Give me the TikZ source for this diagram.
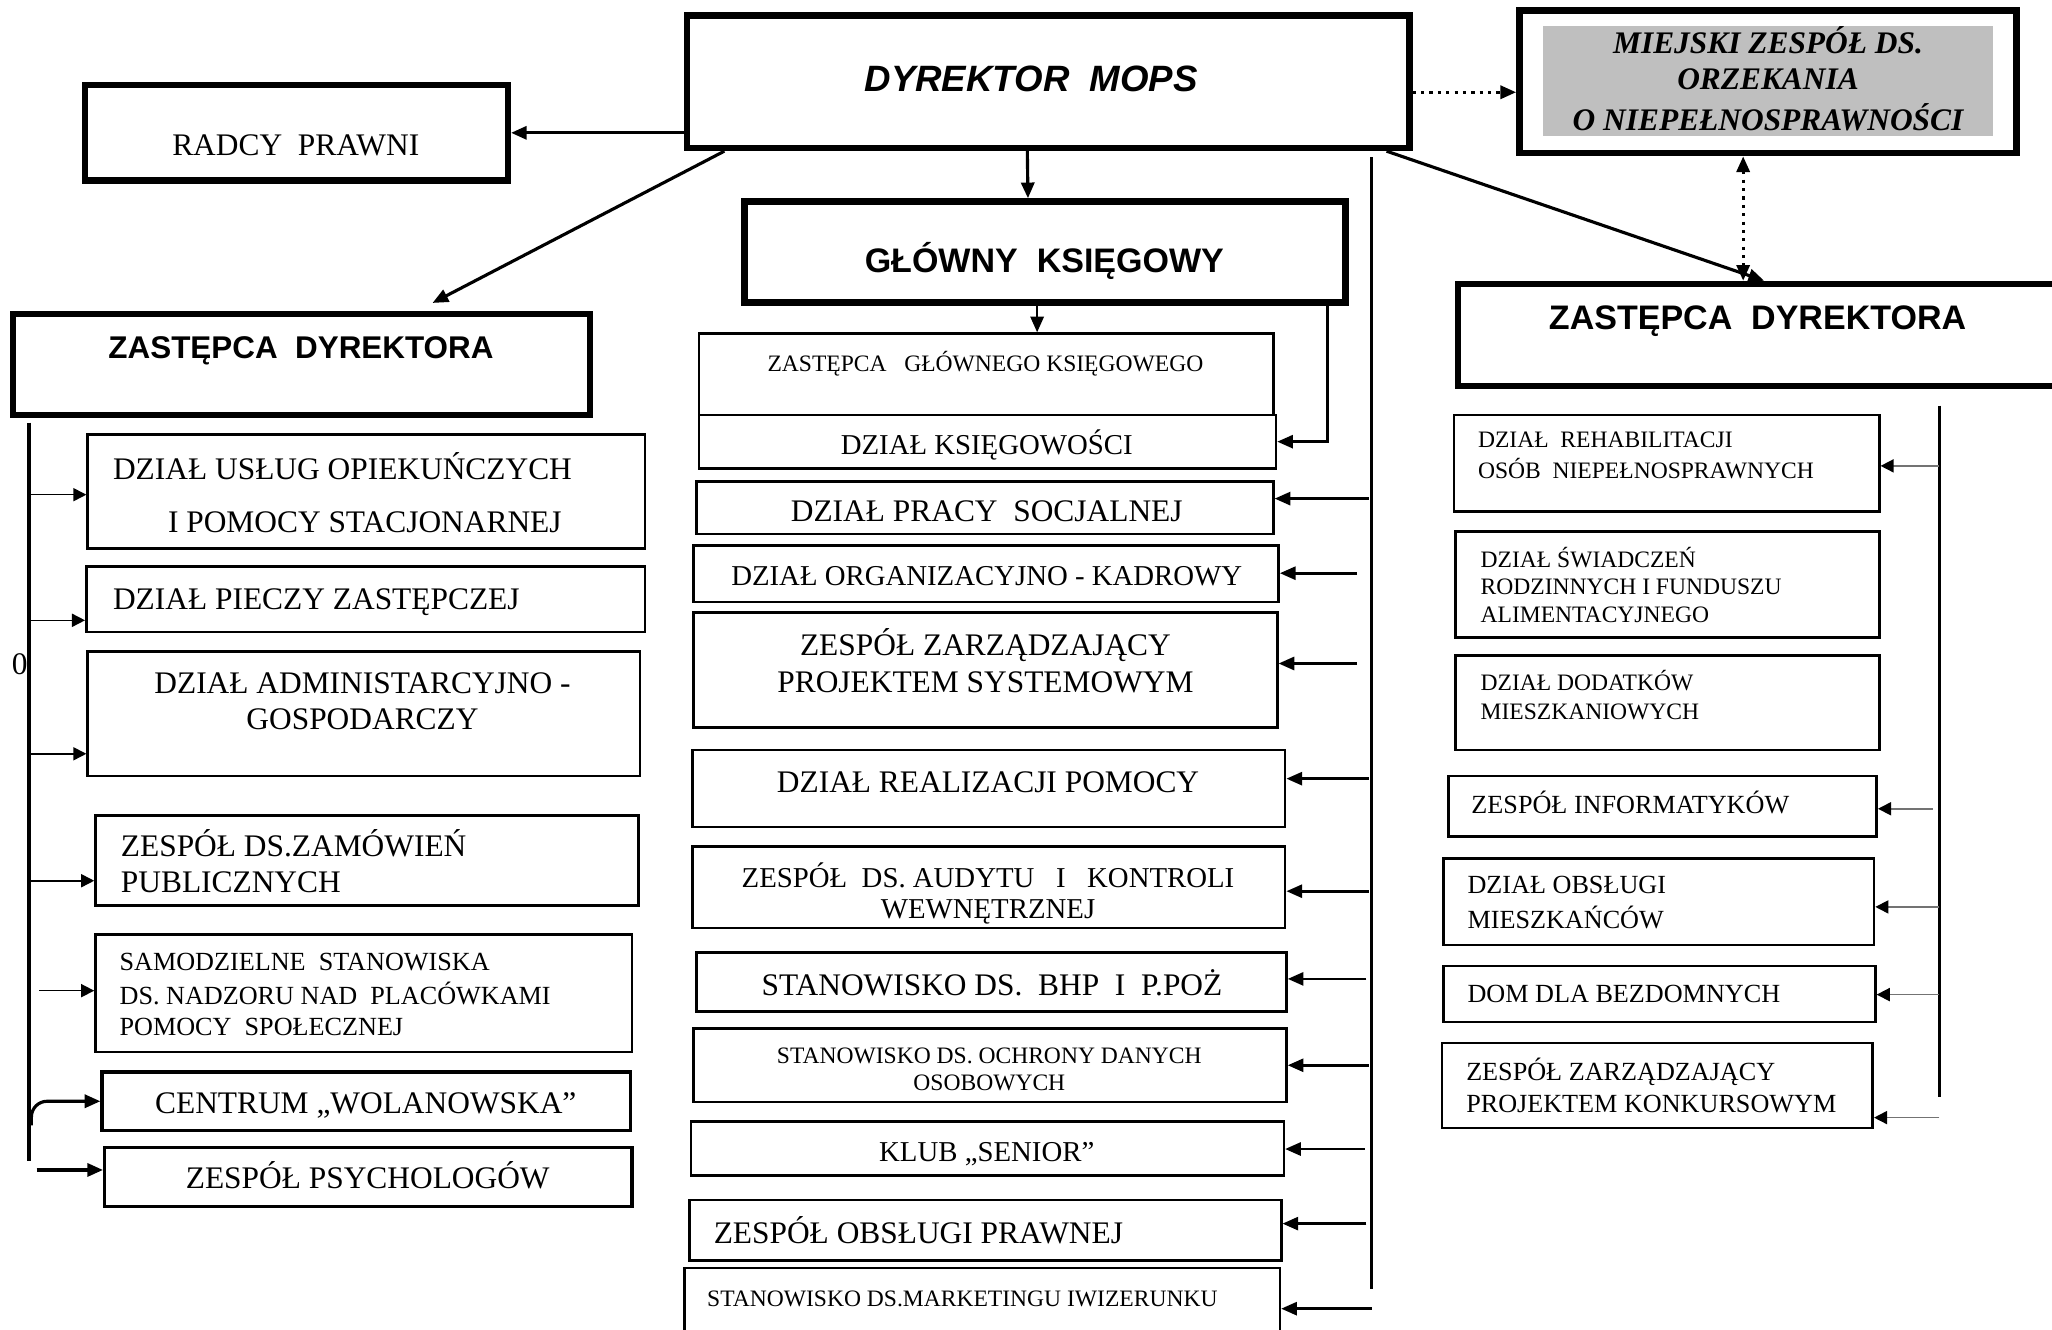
\documentclass[tikz,border=0pt]{standalone}
\usepackage{fontspec}
\setmainfont{Liberation Serif}
\setsansfont{Liberation Sans}
\usetikzlibrary{arrows.meta,positioning,calc,fit}

\newcommand{\fsz}[2]{\fontsize{#1pt}{#2pt}\selectfont}

\begin{document}
\begin{tikzpicture}[
    x=0.5pt, y=-0.5pt,
    bigbox/.style={draw, line width=2.5pt, inner sep=0pt},
    box/.style={draw, line width=1pt, inner sep=0pt},
    txt/.style={inner sep=0pt, align=left},
    hd/.style={inner sep=0pt, font=\sffamily\bfseries\fsz{13}{15}},
    arr/.style={-{Triangle[length=6pt,width=5pt]}, line width=1.2pt},
    marr/.style={-{Triangle[length=6pt,width=5pt]}, line width=1pt},
    tarr/.style={-{Triangle[length=5pt,width=5pt]}, line width=0.6pt},
    garr/.style={-{Triangle[length=5pt,width=5pt,color=black]}, draw=black!55, line width=0.6pt},
    dotarr/.style={dotted, line width=1.2pt, -{Triangle[length=6pt,width=5pt]}},
    trunk/.style={line width=1.5pt}
]
    \fill[white, use as bounding box] (0,0) rectangle (1568,1016);

    % top level
    \node[bigbox, fit={(525,12) (1077,113)}] (dyr) {};
    \node[bigbox, fit={(65,65) (388,138)}] (rad) {};
    \node[bigbox, fit={(1161,8) (1541,117)}] (mzo) {};
    \node[fill=gray!50, inner sep=0pt, fit={(1179,20) (1523,104)}] (mzo-in) {};
    \node[bigbox, fit={(569,154) (1028,231)}] (glow) {};
    \node[bigbox, fit={(10,240) (451,317)}] (zl) {};
    \node[bigbox, fit={(1114,217) (1580,295)}] (zr) {};

    \node[inner sep=0pt, font=\sffamily\bfseries\itshape\fsz{14}{16}] (t-dyr) at (788,60) {DYREKTOR~~MOPS};
    \node[txt, font=\fsz{12}{14}] (t-rad) at (226,113) {\strut RADCY~~PRAWNI};
    \node[txt, align=center, font=\bfseries\itshape\fsz{12}{14}] (t-mzo) at (1351,64)
        {\strut MIEJSKI ZESPÓŁ DS.\\\strut ORZEKANIA\\\strut O NIEPEŁNOSPRAWNOŚCI};
    \node[hd] (t-glow) at (798,201) {\strut GŁÓWNY~~KSIĘGOWY};
    \node[hd, font=\sffamily\bfseries\fsz{12}{14}] (t-zl) at (230,268) {\strut ZASTĘPCA~~DYREKTORA};
    \node[hd] (t-zr) at (1343,246) {\strut ZASTĘPCA~~DYREKTORA};

    % middle column
    \node[box, fit={(534,255) (973,317)}] (zgk) {};
    \node[box, fit={(534,317) (975,358)}] (ksg) {};
    \node[box, fit={(532,368) (973,408)}] (psoc) {};
    \node[box, fit={(530,417) (977,460)}] (org) {};
    \node[box, fit={(530,468) (976,556)}] (zps) {};
    \node[box, fit={(529,573) (982,632)}] (real) {};
    \node[box, fit={(529,647) (982,709)}] (aud) {};
    \node[box, fit={(532,728) (983,773)}] (bhp) {};
    \node[box, fit={(530,786) (983,842)}] (odo) {};
    \node[box, fit={(528,857) (981,898)}] (klub) {};
    \node[box, fit={(527,917) (979,963)}] (zop) {};
    \node[box, fit={(523,969) (978,1025)}] (mark) {};

    \node[txt, font=\fsz{9}{10}] (t-zgk) at (753,279) {\strut ZASTĘPCA~~~GŁÓWNEGO KSIĘGOWEGO};
    \node[txt, font=\fsz{11}{13}] (t-ksg) at (754,342) {\strut DZIAŁ KSIĘGOWOŚCI};
    \node[txt, font=\fsz{12}{14}] (t-psoc) at (754,393) {\strut DZIAŁ PRACY~~SOCJALNEJ};
    \node[txt, font=\fsz{11}{13}] (t-org) at (754,442) {\strut DZIAŁ ORGANIZACYJNO - KADROWY};
    \node[txt, align=center, font=\fsz{12}{14}] (t-zps) at (753,509)
        {\strut ZESPÓŁ ZARZĄDZAJĄCY\\\strut PROJEKTEM SYSTEMOWYM};
    \node[txt, font=\fsz{12}{14}] (t-real) at (755,600) {\strut DZIAŁ REALIZACJI POMOCY};
    \node[txt, align=center, font=\fsz{11}{12}] (t-aud) at (755,684)
        {\strut ZESPÓŁ~~DS. AUDYTU~~~I~~~KONTROLI\\\strut WEWNĘTRZNEJ};
    \node[txt, font=\fsz{12}{14}] (t-bhp) at (758,755) {\strut STANOWISKO DS.~~BHP~~I~~P.POŻ};
    \node[txt, align=center, font=\fsz{9}{10}] (t-odo) at (756,819)
        {\strut STANOWISKO DS. OCHRONY DANYCH\\\strut OSOBOWYCH};
    \node[txt, font=\fsz{11}{13}] (t-klub) at (754,882) {\strut KLUB „SENIOR”};
    \node[txt, anchor=west, font=\fsz{12}{14}] (t-zop) at (545,944) {\strut ZESPÓŁ OBSŁUGI PRAWNEJ};
    \node[txt, anchor=west, font=\fsz{9}{10}] (t-mark) at (540,994) {\strut STANOWISKO DS.MARKETINGU IWIZERUNKU};

    % left column
    \node[box, fit={(67,332) (493,419)}] (usl) {};
    \node[box, fit={(66,433) (493,483)}] (piecz) {};
    \node[box, fit={(67,498) (489,593)}] (adm) {};
    \node[box, fit={(73,623) (488,692)}] (zam) {};
    \node[box, fit={(73,714) (483,804)}] (sam) {};
    \node[box, line width=1.3pt, fit={(78,819) (482,864)}] (cen) {};
    \node[box, line width=1.3pt, fit={(80,877) (483,922)}] (psy) {};

    \node[txt, anchor=west, font=\fsz{12}{20.5}] (t-usl) at (86,378.5)
        {\strut DZIAŁ USŁUG OPIEKUŃCZYCH\\\strut\hspace*{21pt}I POMOCY STACJONARNEJ};
    \node[txt, anchor=west, font=\fsz{12}{14}] (t-piecz) at (86,460) {\strut DZIAŁ PIECZY ZASTĘPCZEJ};
    \node[txt, align=center, font=\fsz{12}{14}] (t-adm) at (277,538)
        {\strut DZIAŁ ADMINISTARCYJNO -\\\strut GOSPODARCZY};
    \node[txt, anchor=west, font=\fsz{12}{14}] (t-zam) at (92,662)
        {\strut ZESPÓŁ DS.ZAMÓWIEŃ\\\strut PUBLICZNYCH};
    \node[txt, anchor=west, font=\fsz{10}{11.75}] (t-sam) at (91,761.5)
        {\strut SAMODZIELNE~~STANOWISKA\\\strut DS. NADZORU NAD~~PLACÓWKAMI\\\strut POMOCY~~SPOŁECZNEJ};
    \node[txt, font=\fsz{12}{14}] (t-cen) at (279.5,845) {\strut CENTRUM „WOLANOWSKA”};
    \node[txt, font=\fsz{12}{14}] (t-psy) at (281,902) {\strut ZESPÓŁ PSYCHOLOGÓW};
    \node[txt, font=\fsz{12}{14}] (t-zero) at (15,510) {\strut 0};

    % right column
    \node[box, fit={(1111,317) (1436,391)}] (reh) {};
    \node[box, fit={(1112,406) (1436,487)}] (swi) {};
    \node[box, fit={(1112,501) (1436,573)}] (dod) {};
    \node[box, fit={(1107,593) (1434,639)}] (inf) {};
    \node[box, fit={(1103,656) (1432,722)}] (obm) {};
    \node[box, fit={(1103,738) (1433,781)}] (dom) {};
    \node[box, fit={(1102,797) (1431,862)}] (zzk) {};

    \node[txt, anchor=west, font=\fsz{9}{10.5}] (t-reh) at (1129,349.5)
        {\strut DZIAŁ~~REHABILITACJI\\\strut OSÓB~~NIEPEŁNOSPRAWNYCH};
    \node[txt, anchor=west, font=\fsz{9}{10.5}] (t-swi) at (1131,450)
        {\strut DZIAŁ ŚWIADCZEŃ\\\strut RODZINNYCH I FUNDUSZU\\\strut ALIMENTACYJNEGO};
    \node[txt, anchor=west, font=\fsz{9}{11}] (t-dod) at (1131,534)
        {\strut DZIAŁ DODATKÓW\\\strut MIESZKANIOWYCH};
    \node[txt, anchor=west, font=\fsz{10}{12}] (t-inf) at (1124,617) {\strut ZESPÓŁ INFORMATYKÓW};
    \node[txt, anchor=west, font=\fsz{10}{11.5}] (t-obm) at (1121,691.5)
        {\strut DZIAŁ OBSŁUGI\\\strut MIESZKAŃCÓW};
    \node[txt, anchor=west, font=\fsz{10}{12}] (t-dom) at (1121,761) {\strut DOM DLA BEZDOMNYCH};
    \node[txt, anchor=west, font=\fsz{10}{12}] (t-zzk) at (1120,833)
        {\strut ZESPÓŁ ZARZĄDZAJĄCY\\\strut PROJEKTEM KONKURSOWYM};

    % connectors from the top
    \draw[arr] (rad.east -| dyr.west) -- (rad.east);
    \draw[arr] ($(dyr.south)+(-16,0)$) -- ($(glow.north)+(-13,0)$);
    \draw[arr] ($(dyr.south west)+(31,0)$) -- ($(zl.north)+(100,-6)$);
    \draw[arr] ($(dyr.south east)+(-20,0)$) -- ($(zr.north)+(1,0)$);
    \draw[dotarr] ($(dyr.east)+(0,8)$) -- ($(mzo.west)+(0,8)$);
    \draw[dotarr, {Triangle[length=6pt,width=5pt]}-{Triangle[length=6pt,width=5pt]}]
        ($(mzo.south)+(-19,0)$) -- ($(zr.north)+(-15,0)$);
    \draw[marr] ($(glow.south)+(-6,0)$) -- ($(zgk.north)+(39,0)$);
    \draw[marr] ($(glow.south east)+(-16,0)$) |- (ksg.east);

    % middle trunk
    \coordinate (tm1) at (1048,120);
    \coordinate (tm2) at (1048,985);
    \draw[trunk] (tm1) -- (tm2);
    \foreach \n/\x/\y in {psoc/1046/381, org/1037/438, zps/1037/507, real/1046/595,
        aud/1046/681, bhp/1044/748, odo/1046/814, klub/1043/878, zop/1044/935, mark/1048/1000} {
        \coordinate (s-\n) at (\x,\y);
        \draw[marr] (s-\n) -- (s-\n -| \n.east);
    }

    % left trunk
    \coordinate (tl1) at (22,323);
    \coordinate (tl2) at (22,887);
    \draw[trunk] (tl1) -- (tl2);
    \foreach \n/\x/\y in {usl/22/378, piecz/22/474, adm/22/576, zam/22/673, sam/30/757} {
        \coordinate (s-\n) at (\x,\y);
        \draw[tarr] (s-\n) -- (s-\n -| \n.west);
    }
    \coordinate (s-cen) at (24,860);
    \draw[arr, rounded corners=6pt] (s-cen) |- (cen.west);
    \coordinate (s-psy) at (28,894);
    \draw[arr] (s-psy) -- (s-psy -| psy.west);

    % right trunk
    \coordinate (tr1) at (1482,310);
    \coordinate (tr2) at (1482,838);
    \draw[trunk] (tr1) -- (tr2);
    \foreach \n/\x/\y in {reh/1482/356, inf/1477/618, obm/1482/693, dom/1482/760, zzk/1482/854} {
        \coordinate (s-\n) at (\x,\y);
        \draw[garr] (s-\n) -- (s-\n -| \n.east);
    }
\end{tikzpicture}
\end{document}
